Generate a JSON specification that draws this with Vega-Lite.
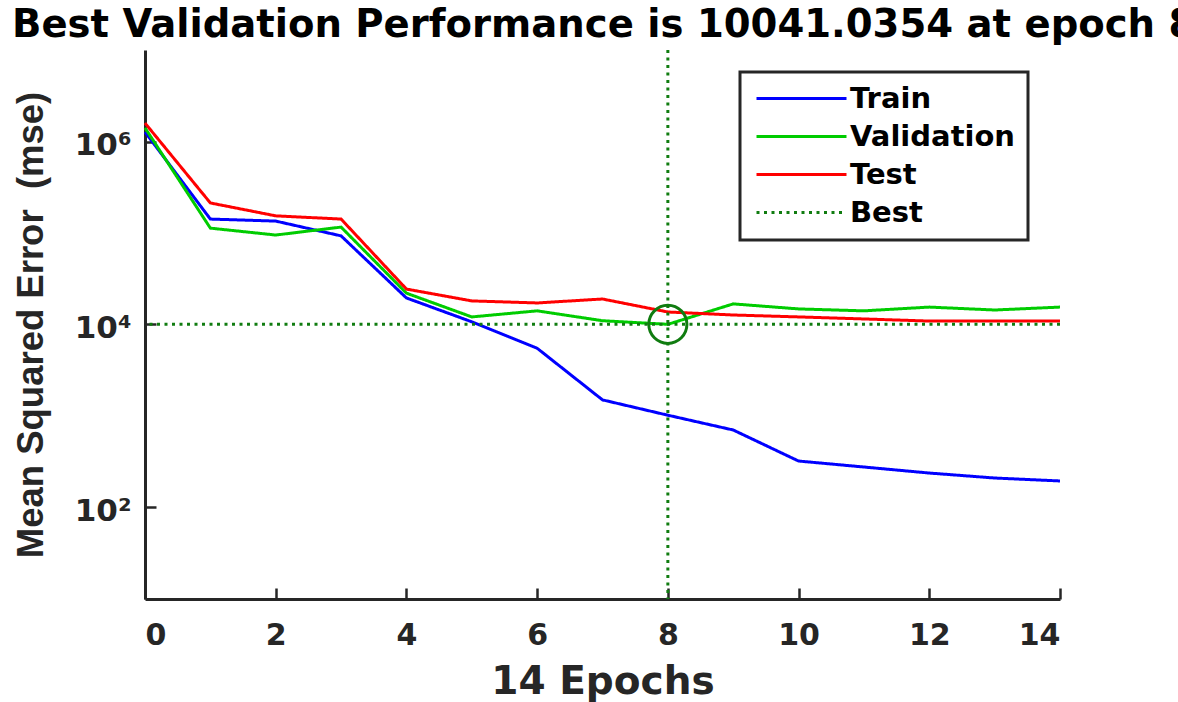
{
  "$schema": "https://vega.github.io/schema/vega-lite/v6.json",
  "autosize": {"type": "none"},
  "width": 915,
  "height": 549,
  "padding": {"left": 145, "top": 50, "right": 118, "bottom": 103},
  "background": "white",
  "title": {
    "text": "Best Validation Performance is 10041.0354 at epoch 8",
    "anchor": "start",
    "frame": "group",
    "dx": -133,
    "dy": 41,
    "offset": 14,
    "baseline": "alphabetic",
    "font": "DejaVu Sans",
    "fontSize": 38.6,
    "fontWeight": "bold",
    "color": "#000000"
  },
  "datasets": {
    "perf": [
      {"epoch": 0, "series": "Train", "mse": 1270000},
      {"epoch": 1, "series": "Train", "mse": 142000},
      {"epoch": 2, "series": "Train", "mse": 135000},
      {"epoch": 3, "series": "Train", "mse": 93000},
      {"epoch": 4, "series": "Train", "mse": 19500},
      {"epoch": 5, "series": "Train", "mse": 10700},
      {"epoch": 6, "series": "Train", "mse": 5500},
      {"epoch": 7, "series": "Train", "mse": 1500},
      {"epoch": 8, "series": "Train", "mse": 1020},
      {"epoch": 9, "series": "Train", "mse": 703},
      {"epoch": 10, "series": "Train", "mse": 322},
      {"epoch": 11, "series": "Train", "mse": 277},
      {"epoch": 12, "series": "Train", "mse": 238},
      {"epoch": 13, "series": "Train", "mse": 210},
      {"epoch": 14, "series": "Train", "mse": 195},
      {"epoch": 0, "series": "Validation", "mse": 1410000},
      {"epoch": 1, "series": "Validation", "mse": 113000},
      {"epoch": 2, "series": "Validation", "mse": 95000},
      {"epoch": 3, "series": "Validation", "mse": 116000},
      {"epoch": 4, "series": "Validation", "mse": 22000},
      {"epoch": 5, "series": "Validation", "mse": 12100},
      {"epoch": 6, "series": "Validation", "mse": 14100},
      {"epoch": 7, "series": "Validation", "mse": 11000},
      {"epoch": 8, "series": "Validation", "mse": 10041.0354},
      {"epoch": 9, "series": "Validation", "mse": 16800},
      {"epoch": 10, "series": "Validation", "mse": 14800},
      {"epoch": 11, "series": "Validation", "mse": 14100},
      {"epoch": 12, "series": "Validation", "mse": 15500},
      {"epoch": 13, "series": "Validation", "mse": 14400},
      {"epoch": 14, "series": "Validation", "mse": 15500},
      {"epoch": 0, "series": "Test", "mse": 1590000},
      {"epoch": 1, "series": "Test", "mse": 213000},
      {"epoch": 2, "series": "Test", "mse": 154000},
      {"epoch": 3, "series": "Test", "mse": 142000},
      {"epoch": 4, "series": "Test", "mse": 24400},
      {"epoch": 5, "series": "Test", "mse": 18100},
      {"epoch": 6, "series": "Test", "mse": 17200},
      {"epoch": 7, "series": "Test", "mse": 19000},
      {"epoch": 8, "series": "Test", "mse": 13700},
      {"epoch": 9, "series": "Test", "mse": 12700},
      {"epoch": 10, "series": "Test", "mse": 12100},
      {"epoch": 11, "series": "Test", "mse": 11500},
      {"epoch": 12, "series": "Test", "mse": 10900},
      {"epoch": 13, "series": "Test", "mse": 10900},
      {"epoch": 14, "series": "Test", "mse": 10900}
    ],
    "bestH": [{"series": "Best", "mse": 10041.0354}],
    "bestV": [{"series": "Best", "epoch": 8}],
    "bestPt": [{"epoch": 8, "mse": 10041.0354}]
  },
  "config": {
    "view": {"stroke": null},
    "axis": {
      "grid": false,
      "domainColor": "#262626",
      "domainWidth": 3,
      "tickColor": "#262626",
      "tickWidth": 2.5,
      "tickSize": -11,
      "labelColor": "#262626",
      "labelFont": "DejaVu Sans",
      "labelFontWeight": "bold",
      "titleColor": "#262626",
      "titleFontWeight": "bold"
    },
    "legend": {
      "orient": "none",
      "legendX": 595,
      "legendY": 22,
      "padding": 12,
      "strokeColor": "#262626",
      "fillColor": "white",
      "title": null,
      "symbolType": "M-1,0H8",
      "symbolSize": 400,
      "symbolStrokeWidth": 3,
      "labelFont": "DejaVu Sans",
      "labelFontSize": 29,
      "labelFontWeight": "bold",
      "labelColor": "#000000",
      "labelOffset": 69,
      "rowPadding": 8,
      "labelLimit": 400
    }
  },
  "encoding": {
    "x": {
      "field": "epoch",
      "type": "quantitative",
      "scale": {"domain": [0, 14], "nice": false, "zero": false},
      "axis": {
        "title": "14 Epochs",
        "values": [0, 2, 4, 6, 8, 10, 12, 14],
        "labelFontSize": 30,
        "labelPadding": 32,
        "titleFont": "DejaVu Sans",
        "titleFontSize": 39,
        "titlePadding": 12
      }
    },
    "y": {
      "field": "mse",
      "type": "quantitative",
      "scale": {"type": "log", "domain": [10, 10000000], "nice": false},
      "axis": {
        "title": "Mean Squared Error\u00a0 (mse)",
        "values": [100, 10000, 1000000],
        "labelExpr": "datum.value == 1000000 ? '10⁶' : datum.value == 10000 ? '10⁴' : '10²'",
        "labelFontSize": 31,
        "labelPadding": 25,
        "labelOffset": 4,
        "titleFont": "Liberation Sans",
        "titleFontSize": 36.5,
        "titlePadding": 24
      }
    }
  },
  "layer": [
    {
      "data": {"name": "perf"},
      "mark": {"type": "line", "strokeWidth": 3},
      "encoding": {
        "color": {
          "field": "series",
          "type": "nominal",
          "scale": {"domain": ["Train", "Validation", "Test", "Best"], "range": ["#0000ff", "#00cc00", "#ff0000", "#107c10"]},
          "legend": {"title": null, "encode": {"legend": {"update": {"strokeWidth": {"value": 3}}}}}
        },
        "strokeDash": {
          "field": "series",
          "type": "nominal",
          "scale": {"domain": ["Train", "Validation", "Test", "Best"], "range": [[1, 0], [1, 0], [1, 0], [3, 4.5]]},
          "legend": {"title": null, "encode": {"legend": {"update": {"strokeWidth": {"value": 3}}}}}
        }
      }
    },
    {
      "data": {"name": "bestH"},
      "mark": {"type": "rule", "strokeWidth": 3, "strokeCap": "butt"},
      "encoding": {
        "x": null,
        "y": {"field": "mse", "type": "quantitative"},
        "color": {"field": "series", "type": "nominal"},
        "strokeDash": {"field": "series", "type": "nominal"}
      }
    },
    {
      "data": {"name": "bestV"},
      "mark": {"type": "rule", "strokeWidth": 3, "strokeCap": "butt"},
      "encoding": {
        "y": null,
        "x": {"field": "epoch", "type": "quantitative"},
        "color": {"field": "series", "type": "nominal"},
        "strokeDash": {"field": "series", "type": "nominal"}
      }
    },
    {
      "data": {"name": "bestPt"},
      "mark": {"type": "point", "shape": "circle", "filled": false, "size": 1452, "stroke": "#107c10", "strokeWidth": 3, "opacity": 1}
    }
  ]
}
